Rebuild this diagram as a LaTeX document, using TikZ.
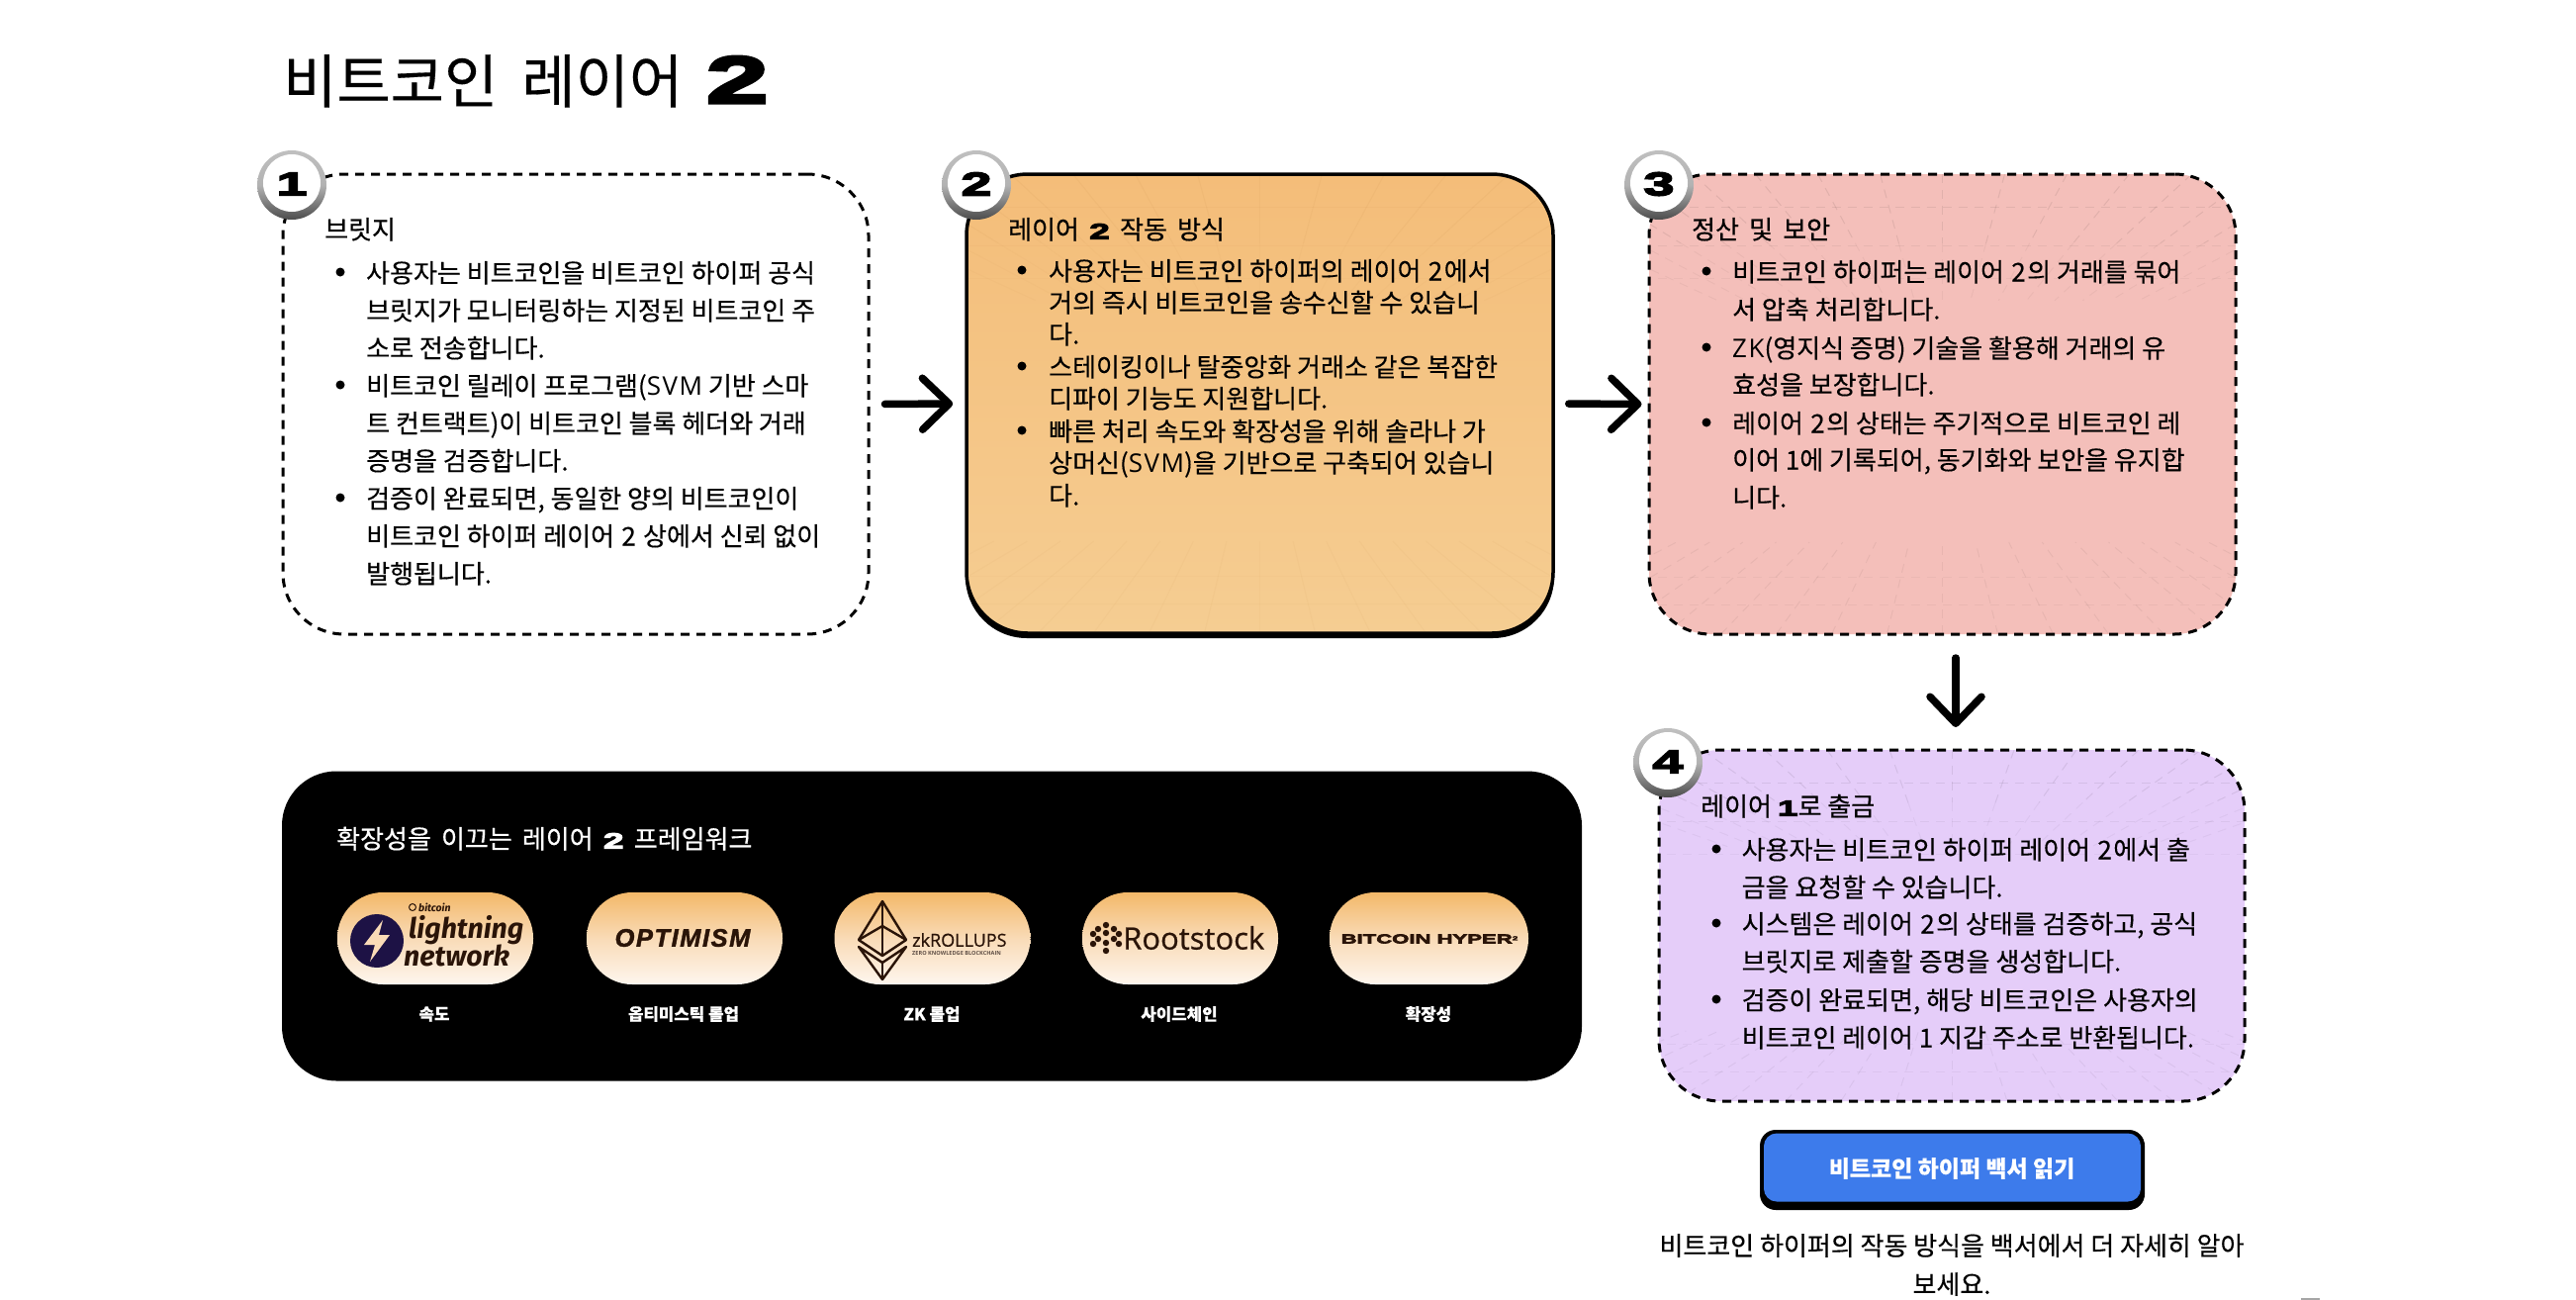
\documentclass[tikz,border=0pt]{standalone}
\usepackage{fontspec}
\setmainfont{Noto Sans CJK KR}[FakeBold=0.25]
\newfontfamily\headfont{Noto Sans CJK KR}[FakeBold=0.6]
\newfontfamily\widefont[FakeStretch=1.7,FakeBold=5]{Liberation Sans Bold}
\newfontfamily\lightfont[ItalicFont=Fira Sans Bold Italic]{Fira Sans}
\newfontfamily\optfont{Liberation Sans Bold Italic}[LetterSpace=6,FakeBold=1.5]
\newfontfamily\rootfont{Open Sans}
\newfontfamily\rootbold{Open Sans}[FakeBold=0.7]
\newfontfamily\latfont{Open Sans}[LetterSpace=6]
\usetikzlibrary{arrows.meta,calc,shapes.geometric}
\definecolor{boxtop}{HTML}{F4BD79}
\definecolor{boxbot}{HTML}{F5CD92}
\definecolor{boxpink}{HTML}{F4BFBA}
\definecolor{boxpurple}{HTML}{E5CDF9}
\definecolor{btnblue}{HTML}{3D7BEB}
\definecolor{logodark}{HTML}{2A1408}
\definecolor{boltnavy}{HTML}{1D1245}
\definecolor{pilltop}{HTML}{F3B869}
\definecolor{pillmid}{HTML}{F9DBB7}
\definecolor{pillbot}{HTML}{FEF6EE}
\tikzset{
  card/.style={minimum width=#1,inner sep=0pt,rounded corners=62pt,line width=3pt},
  dashedcard/.style={draw=black,dash pattern=on 9pt off 7pt},
  flow/.style={line width=7.5pt,line cap=round,line join=round,-{Straight Barb[length=27pt,width=52pt,line width=7.5pt,round]}},
  bodytext/.style={anchor=base west,inner sep=0pt,font=\fontsize{26}{32}\selectfont},
  bulletdot/.style={circle,fill=black,inner sep=0pt,minimum size=9pt},
  pill/.style={minimum width=198pt,minimum height=93pt,inner sep=0pt,rounded corners=46pt,top color=pilltop,bottom color=pillbot,middle color=pillmid},
  plabel/.style={text=white,inner sep=0pt,font=\fontsize{16.8}{20}\selectfont\bfseries},
  digit/.style={inner sep=0pt,font=\fontsize{33}{33}\selectfont\widefont},
  badgeouter/.style={circle,minimum size=70pt,inner sep=0pt,top color=black!25,bottom color=black!70,middle color=black!30},
  badgeinner/.style={circle,minimum size=58pt,inner sep=0pt,fill=white},
}
\newcommand{\TL}[4]{\node[bodytext] (#1) at (#2,#3+10.5) {#4};}
\newcommand{\BD}[3]{\node[bulletdot] (#1) at (#2,#3) {};}
\newcommand{\lat}[1]{{\latfont #1}}
\newcommand{\two}{\hspace{1.5pt}2\hspace{1.5pt}}
\newcommand{\gridlines}[4]{% cx, top, bot, colour
  \pgfmathsetmacro{\gmid}{(#2+#3)/2}
  \begin{scope}[draw=#4,line width=1pt]
  \foreach \k in {-8,...,8}{
    \coordinate (gt) at ({#1+\k*63},#2);
    \coordinate (gb) at ({#1+\k*56},#3);
    \coordinate (gc) at (#1,\gmid);
    \draw[opacity=.08] (gt) -- ($(gt)!.30!(gc)$);
    \draw[opacity=.04] ($(gt)!.30!(gc)$) -- ($(gt)!.55!(gc)$);
    \draw[opacity=.05] (gb) -- ($(gb)!.40!(gc)$);
  }
  \draw[opacity=.07] (#1-320,#2+33) -- (#1+320,#2+33);
  \draw[opacity=.05] (#1-320,#2+72) -- (#1+320,#2+72);
  \draw[opacity=.035] (#1-320,#2+105) -- (#1+320,#2+105);
  \draw[opacity=.04] (#1-320,#3-30) -- (#1+320,#3-30);
  \draw[opacity=.035] (#1-320,#3-58) -- (#1+320,#3-58);
  \end{scope}
}
\newcommand{\badge}[4]{% name x y digit
  \node[badgeouter] (#1o) at (#2,#3) {};
  \node[badgeinner] (#1i) at (#2,#3-2) {};
  \node[digit] (#1) at (#2,#3-1) {#4};
}
\begin{document}
\begin{tikzpicture}[x=1pt,y=-1pt]
\useasboundingbox (0,0) rectangle (2604,1314);

% title
\node[anchor=base west,inner sep=0pt,font=\fontsize{59}{60}\selectfont] (title) at (286,104) {비트코인\hspace{11pt} 레이어\hspace{10pt} {\fontsize{67}{67}\selectfont\widefont 2}};

% step cards
\node[card=592pt,minimum height=465pt,fill=white,dashedcard] (b1) at (582,408.5) {};

\fill[black,rounded corners=62pt] (976,178) rectangle (1571,645);
\node[card=593pt,minimum height=464pt,line width=3.5pt,draw=black,top color=boxtop,bottom color=boxbot,path picture={\gridlines{0}{-232}{232}{brown}}] (b2) at (1273.5,408) {};

\node[card=593pt,minimum height=465pt,fill=boxpink,path picture={\gridlines{0}{-232.5}{232.5}{black}},dashedcard] (b3) at (1963.5,408.5) {};
\node[card=592pt,minimum height=355pt,fill=boxpurple,path picture={\gridlines{0}{-177.5}{177.5}{black}},dashedcard] (b4) at (1973,935.5) {};

% connectors
\coordinate (a3s) at (1977,665);
\coordinate (a3e) at (1977,735);
\draw[flow,shorten <=15pt,shorten >=12pt] (b1.east) -- (b2.west);
\draw[flow,shorten <=14pt,shorten >=6pt] (b2.east) -- (b3.west);
\draw[flow] (a3s) -- (a3e);

% card 1
\TL{h1}{328}{231}{\headfont 브릿지}
\BD{d11}{344}{275}\BD{d12}{344}{389}\BD{d13}{344}{503}
\TL{t11}{370}{275}{사용자는 비트코인을 비트코인 하이퍼 공식}
\TL{t12}{370}{313}{브릿지가 모니터링하는 지정된 비트코인 주}
\TL{t13}{370}{351}{소로 전송합니다.}
\TL{t14}{370}{389}{비트코인 릴레이 프로그램(\lat{SVM} 기반 스마}
\TL{t15}{370}{427}{트 컨트랙트)이 비트코인 블록 헤더와 거래}
\TL{t16}{370}{465}{증명을 검증합니다.}
\TL{t17}{370}{503}{검증이 완료되면, 동일한 양의 비트코인이}
\TL{t18}{370}{541}{비트코인 하이퍼 레이어 \two\ 상에서 신뢰 없이}
\TL{t19}{370}{579}{발행됩니다.}

% card 2
\TL{h2}{1019}{231}{\headfont 레이어 \,{\fontsize{22}{22}\selectfont\widefont 2}\, 작동 \,방식}
\BD{d21}{1033}{273}\BD{d22}{1033}{370}\BD{d23}{1033}{435}
\TL{t21}{1060}{273}{사용자는 비트코인 하이퍼의 레이어 \two 에서}
\TL{t22}{1060}{305}{거의 즉시 비트코인을 송수신할 수 있습니}
\TL{t23}{1060}{337}{다.}
\TL{t24}{1060}{370}{스테이킹이나 탈중앙화 거래소 같은 복잡한}
\TL{t25}{1060}{402}{디파이 기능도 지원합니다.}
\TL{t26}{1060}{435}{빠른 처리 속도와 확장성을 위해 솔라나 가}
\TL{t27}{1060}{467}{상머신(\lat{SVM})을 기반으로 구축되어 있습니}
\TL{t28}{1060}{500}{다.}

% card 3
\TL{h3}{1710}{231}{\headfont 정산 \,및 \,보안}
\BD{d31}{1725}{274}\BD{d32}{1725}{351}\BD{d33}{1725}{427}
\TL{t31}{1751}{274}{비트코인 하이퍼는 레이어 \two 의 거래를 묶어}
\TL{t32}{1751}{312}{서 압축 처리합니다.}
\TL{t33}{1751}{351}{\lat{ZK}(영지식 증명) 기술을 활용해 거래의 유}
\TL{t34}{1751}{388}{효성을 보장합니다.}
\TL{t35}{1751}{427}{레이어 \two 의 상태는 주기적으로 비트코인 레}
\TL{t36}{1751}{464}{이어 1에 기록되어, 동기화와 보안을 유지합}
\TL{t37}{1751}{502}{니다.}

% card 4
\TL{h4}{1719}{814}{\headfont 레이어 {\fontsize{22}{22}\selectfont\widefont 1}로 출금}
\BD{d41}{1735}{858}\BD{d42}{1735}{933}\BD{d43}{1735}{1010}
\TL{t41}{1760.5}{858}{사용자는 비트코인 하이퍼 레이어 \two 에서 출}
\TL{t42}{1760.5}{896}{금을 요청할 수 있습니다.}
\TL{t43}{1760.5}{933}{시스템은 레이어 \two 의 상태를 검증하고, 공식}
\TL{t44}{1760.5}{971}{브릿지로 제출할 증명을 생성합니다.}
\TL{t45}{1760.5}{1010}{검증이 완료되면, 해당 비트코인은 사용자의}
\TL{t46}{1760.5}{1048}{비트코인 레이어 1 지갑 주소로 반환됩니다.}

% badges
\badge{n1}{295}{187}{1}
\badge{n2}{987}{187}{2}
\badge{n3}{1677}{187}{3}
\badge{n4}{1686}{771}{4}

% black panel
\node[fill=black,minimum width=1314pt,minimum height=313pt,inner sep=0pt,rounded corners=55pt] (panel) at (942,936) {};
\node[anchor=base west,inner sep=0pt,text=white,font=\fontsize{26}{30}\selectfont\headfont] (ptitle) at (340,857.5) {확장성을 \,이끄는 \,레이어 \,{\fontsize{22}{22}\selectfont\widefont 2}\, 프레임워크};

\node[pill] (p1) at (440,948.5) {};
\node[pill] (p2) at (692,948.5) {};
\node[pill] (p3) at (942.5,948.5) {};
\node[pill] (p4) at (1193,948.5) {};
\node[pill,minimum width=201pt] (p5) at (1444.5,948.5) {};

\node[plabel] (l1) at (439,1025) {속도};
\node[plabel] (l2) at (691,1025) {옵티미스틱 롤업};
\node[plabel] (l3) at (942,1025) {ZK 롤업};
\node[plabel] (l4) at (1192,1025) {사이드체인};
\node[plabel] (l5) at (1444,1025) {확장성};

% logo 1
\node[circle,fill=boltnavy,minimum size=54pt,inner sep=0pt] (lncirc) at (381,951) {};
\fill[pillmid] (387,930) -- (368,955) -- (379,955) -- (374,972) -- (394,945) -- (383,945) -- cycle;
\node[draw=logodark,circle,line width=1pt,minimum size=7pt,inner sep=0pt] (lnc) at (417,917) {};
\node[anchor=west,inner sep=0pt,text=logodark,font=\fontsize{10.5}{12}\selectfont\lightfont\itshape] (lnb) at (423,917) {bitcoin};
\node[anchor=west,inner sep=0pt,text=logodark,font=\fontsize{28.5}{34}\selectfont\lightfont\itshape] (ln1) at (413,940) {lightning};
\node[anchor=west,inner sep=0pt,text=logodark,font=\fontsize{28.5}{34}\selectfont\lightfont\itshape] (ln2) at (408,966) {network};

% logo 2
\node[inner sep=0pt,text=logodark,font=\fontsize{25.5}{28}\selectfont\optfont] (opt) at (690,948) {OPTIMISM};

% logo 3
\begin{scope}[draw=logodark,line width=2.4pt,line join=round]
\draw (892,911) -- (868,950) -- (892,966) -- (916,950) -- cycle;
\draw (892,911) -- (892,966);
\draw (868,950) -- (892,936) -- (916,950);
\draw (868,957) -- (892,990) -- (916,957) -- (892,973) -- cycle;
\draw (892,973) -- (892,990);
\end{scope}
\node[anchor=west,inner sep=0pt,text=logodark,font=\fontsize{18}{20}\selectfont\rootbold] (zkr) at (922,950) {zkROLLUPS};
\node[anchor=west,inner sep=0pt,text=logodark!75,font=\fontsize{5.6}{7}\selectfont\rootfont\bfseries] (zkr2) at (922,963) {ZERO KNOWLEDGE BLOCKCHAIN};

% logo 4
\foreach \a/\b in {0/-13,0/-5,0/5,0/13,-8/-9,8/-9,-8/1,8/1,-13/-4,13/-4,-13/6,13/6}{
  \fill[logodark] (1118+\a,948+\b) circle (3.2pt);
}
\node[anchor=west,inner sep=0pt,text=logodark,font=\fontsize{31}{36}\selectfont\rootbold] (root) at (1135,948) {Rootstock};

% logo 5
\node[inner sep=0pt,text=logodark,font=\fontsize{13}{14}\selectfont\widefont] (hyper) at (1445,949) {BITCOIN HYPER\raisebox{3pt}{\fontsize{6}{6}\selectfont 2}};

% button
\node[fill=black,minimum width=389pt,minimum height=81pt,inner sep=0pt,rounded corners=16pt] (btns) at (1973.5,1182.5) {};
\node[fill=btnblue,minimum width=381pt,minimum height=69pt,inner sep=0pt,rounded corners=13pt] (btn) at (1973.5,1180) {};
\node[inner sep=0pt,text=white,font=\fontsize{23}{26}\selectfont\bfseries] (btnt) at (1973,1181) {비트코인 하이퍼 백서 읽기};

% caption
\node[inner sep=0pt,font=\fontsize{26}{32}\selectfont] (cap1) at (1973,1259) {비트코인 하이퍼의 작동 방식을 백서에서 더 자세히 알아};
\node[inner sep=0pt,font=\fontsize{26}{32}\selectfont] (cap2) at (1973,1298) {보세요.};

\draw[black!35,line width=1.2pt] (2326,1313) -- (2345,1313);
\end{tikzpicture}
\end{document}
